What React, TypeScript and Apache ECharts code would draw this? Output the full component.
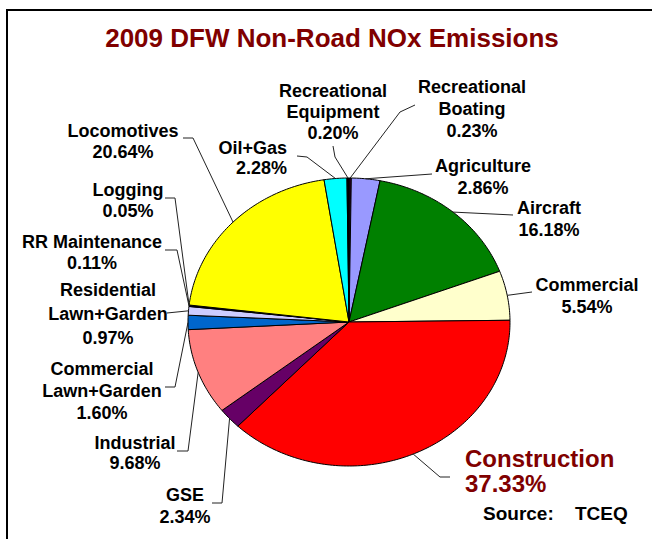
import React, { useEffect, useRef } from "react";
import * as echarts from "echarts";

const titleText = "2009 DFW Non-Road NOx Emissions";
const sourceLabel = "Source:";
const sourceName = "TCEQ";

const categories = [
  "Recreational\nBoating",
  "Agriculture",
  "Aircraft",
  "Commercial",
  "Construction",
  "GSE",
  "Industrial",
  "Commercial\nLawn+Garden",
  "Residential\nLawn+Garden",
  "RR Maintenance",
  "Logging",
  "Locomotives",
  "Oil+Gas",
  "Recreational\nEquipment",
];
const values = [0.23, 2.86, 16.18, 5.54, 37.33, 2.34, 9.68, 1.6, 0.97, 0.11, 0.05, 20.64, 2.28, 0.2];
const colors = [
  "#330033",
  "#9999FF",
  "#008000",
  "#FFFFCC",
  "#FF0000",
  "#660066",
  "#FF8080",
  "#0066CC",
  "#CCCCFF",
  "#000080",
  "#000000",
  "#FFFF00",
  "#00FFFF",
  "#000000",
];

// layout (not data)
const CX = 349;
const CY = 322;
const RX = 161;
const RY = 144;
const FONT = '"Liberation Sans", Arial, Helvetica, sans-serif';

type Lay = { x: number; y: number; align: string; lh: number; size?: number; color?: string; split?: boolean; leader: number[][] };
const labelLayout: Lay[] = [
  { x: 472, y: 76, align: "center", lh: 22, leader: [[400, 112], [415, 105]] },
  { x: 483, y: 155, align: "center", lh: 22, leader: [[432, 174]] },
  { x: 549, y: 197, align: "center", lh: 22, leader: [[513, 215]] },
  { x: 587, y: 274, align: "center", lh: 22, leader: [[532, 292]] },
  { x: 465, y: 446, align: "left", lh: 25, size: 24, color: "#800000", split: true, leader: [[440, 477], [450, 477]] },
  { x: 185, y: 484, align: "center", lh: 22, leader: [[222, 503], [212, 503]] },
  { x: 135, y: 433, align: "center", lh: 20, leader: [[188, 451], [177, 451]] },
  { x: 102, y: 358, align: "center", lh: 22, leader: [[175, 387], [165, 387]] },
  { x: 108, y: 278, align: "center", lh: 24, leader: [[167, 313]] },
  { x: 92, y: 231.5, align: "center", lh: 21, leader: [[177, 250], [165, 250]] },
  { x: 128, y: 179.5, align: "center", lh: 21, leader: [[175, 198], [165, 198]] },
  { x: 123, y: 120.5, align: "center", lh: 21, leader: [[193, 138], [183, 138]] },
  { x: 287, y: 138, align: "right", lh: 20, leader: [[307, 157], [297, 156]] },
  { x: 333, y: 80.5, align: "center", lh: 21, leader: [[335, 157], [333, 146]] },
];

function edgePoint(theta: number): number[] {
  return [CX + RX * Math.sin(theta), CY - RY * Math.cos(theta)];
}

export default function App() {
  const ref = useRef<HTMLDivElement>(null);
  useEffect(() => {
    if (!ref.current) return;
    const chart = echarts.init(ref.current, undefined, { renderer: "svg" });
    const total = values.reduce((a, b) => a + b, 0);
    const starts: number[] = [];
    let acc = 0;
    values.forEach((v) => {
      starts.push((acc / total) * Math.PI * 2);
      acc += v;
    });

    const graphics: any[] = [];
    graphics.push({
      type: "line",
      shape: { x1: 6, y1: 10, x2: 652, y2: 10 },
      style: { stroke: "#000", lineWidth: 2 },
    });
    graphics.push({
      type: "line",
      shape: { x1: 7, y1: 9, x2: 7, y2: 539 },
      style: { stroke: "#000", lineWidth: 2 },
    });
    graphics.push({
      type: "text",
      x: 332,
      y: 38,
      style: {
        text: titleText,
        fill: "#800000",
        fontSize: 26,
        fontWeight: "bold",
        fontFamily: FONT,
        align: "center",
        verticalAlign: "middle",
      },
    });
    graphics.push({
      type: "text",
      x: 483,
      y: 513,
      style: { text: sourceLabel, fill: "#000", fontSize: 19, fontWeight: "bold", fontFamily: FONT, align: "left", verticalAlign: "middle" },
    });
    graphics.push({
      type: "text",
      x: 575,
      y: 513,
      style: { text: sourceName, fill: "#000", fontSize: 19, fontWeight: "bold", fontFamily: FONT, align: "left", verticalAlign: "middle" },
    });

    values.forEach((v, i) => {
      const lay = labelLayout[i];
      const mid = starts[i] + ((v / total) * Math.PI * 2) / 2;
      const pts = [edgePoint(mid), ...lay.leader];
      graphics.push({
        type: "polyline",
        z: 10,
        shape: { points: pts },
        style: { stroke: "#222", lineWidth: 1, fill: null },
      });
      const full = categories[i] + "\n" + v.toFixed(2) + "%";
      const baseStyle = {
        fill: lay.color || "#000",
        fontSize: lay.size || 18,
        fontWeight: "bold",
        fontFamily: FONT,
        align: lay.align,
      };
      if (lay.split) {
        full.split("\n").forEach((line, k) => {
          graphics.push({
            type: "text",
            z: 10,
            x: lay.x,
            y: lay.y + lay.lh / 2 + k * lay.lh,
            style: { ...baseStyle, text: line, verticalAlign: "middle" },
          });
        });
      } else {
        graphics.push({
          type: "text",
          z: 10,
          x: lay.x,
          y: lay.y,
          style: { ...baseStyle, text: full, verticalAlign: "top", lineHeight: lay.lh },
        });
      }
    });

    chart.setOption({
      animation: false,
      backgroundColor: "#fff",
      graphic: graphics,
      series: [
        {
          type: "custom",
          coordinateSystem: "none",
          data: values.map((v, i) => ({ name: categories[i], value: v })),
          renderItem: (params: any, api: any) => {
            const i = params.dataIndex;
            const val = api.value(0);
            const a0 = starts[i];
            const a1 = a0 + (val / total) * Math.PI * 2;
            const n = Math.max(2, Math.ceil((a1 - a0) / (Math.PI / 180)));
            const pts: number[][] = [[CX, CY]];
            for (let k = 0; k <= n; k++) pts.push(edgePoint(a0 + ((a1 - a0) * k) / n));
            return {
              type: "polygon",
              shape: { points: pts },
              style: { fill: colors[i], stroke: "#000", lineWidth: 1, lineJoin: "round" },
            };
          },
        },
      ],
    });
    return () => chart.dispose();
  }, []);
  return (
    <div
      ref={ref}
      style={{ position: "fixed", left: 0, top: 0, width: 652, height: 539, background: "#fff" }}
    />
  );
}
